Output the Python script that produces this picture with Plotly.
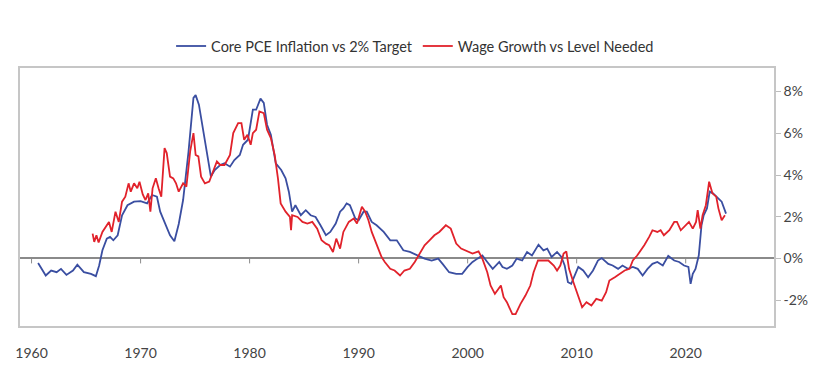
import plotly.graph_objects as go

# Core PCE inflation minus 2% target (percentage points)
pce_years = [1960.6, 1960.9, 1961.3, 1961.8, 1962.3, 1962.7, 1963.2, 1963.8, 1964.2, 1964.8,
             1965.45, 1965.9, 1966.2, 1966.5, 1966.9, 1967.2, 1967.5, 1967.9, 1968.3, 1968.8,
             1969.4, 1970.0, 1970.6, 1971.05, 1971.5, 1971.8, 1972.3, 1972.7, 1973.1, 1973.5,
             1973.9, 1974.4, 1974.85, 1975.05, 1975.35, 1975.7, 1976.05, 1976.45, 1976.8, 1977.3,
             1977.7, 1978.2, 1978.6, 1979.1, 1979.4, 1979.85, 1980.3, 1980.6, 1981.0, 1981.3,
             1981.6, 1981.95, 1982.4, 1982.9, 1983.3, 1983.6, 1983.9, 1984.2, 1984.7, 1985.15,
             1985.6, 1986.05, 1986.5, 1987.0, 1987.4, 1987.9, 1988.3, 1988.6, 1988.9, 1989.2,
             1989.7, 1990.0, 1990.45, 1990.75, 1991.2, 1991.65, 1992.3, 1992.9, 1993.5, 1994.1,
             1994.7, 1995.45, 1996.05, 1996.7, 1997.3, 1997.7, 1998.3, 1998.95, 1999.5, 2000.0,
             2000.45, 2000.9, 2001.35, 2001.8, 2002.3, 2002.9, 2003.2, 2003.6, 2004.1, 2004.5,
             2005.0, 2005.45, 2005.9, 2006.5, 2006.95, 2007.3, 2007.7, 2008.2, 2008.6, 2008.9,
             2009.2, 2009.5, 2009.85, 2010.15, 2010.6, 2011.05, 2011.5, 2011.95, 2012.3, 2012.9,
             2013.3, 2013.8, 2014.2, 2014.7, 2015.15, 2015.6, 2016.05, 2016.5, 2016.95, 2017.4,
             2017.9, 2018.4, 2018.95, 2019.4, 2019.85, 2020.25, 2020.45, 2020.65, 2020.9, 2021.2,
             2021.45, 2021.65, 2021.95, 2022.2, 2022.5, 2022.8, 2023.1, 2023.3, 2023.7]
pce_vals = [-0.22, -0.5, -0.82, -0.58, -0.66, -0.5, -0.79, -0.58, -0.3, -0.66,
            -0.74, -0.85, -0.34, 0.39, 0.95, 1.03, 0.87, 1.11, 2.07, 2.55,
            2.72, 2.75, 2.64, 3.04, 2.96, 2.24, 1.59, 1.11, 0.82, 1.65,
            2.8, 5.13, 7.7, 7.83, 7.37, 6.25, 5.13, 3.92, 4.24, 4.48,
            4.56, 4.4, 4.72, 4.96, 5.45, 5.69, 7.13, 7.13, 7.66, 7.46,
            6.41, 5.93, 4.56, 4.24, 3.84, 3.2, 2.24, 2.55, 2.07, 2.31,
            2.07, 1.99, 1.59, 1.11, 1.27, 1.67, 2.24, 2.4, 2.64, 2.55,
            1.91, 1.83, 2.24, 2.24, 1.75, 1.59, 1.27, 0.87, 0.87, 0.39,
            0.31, 0.14, -0.01, -0.1, -0.01, -0.26, -0.66, -0.74, -0.74, -0.41,
            -0.17, -0.01, 0.14, -0.17, -0.5, -0.17, -0.41, -0.5, -0.34, -0.01,
            -0.1, 0.31, 0.14, 0.66, 0.39, 0.47, 0.07, 0.31, 0.07, -0.34,
            -1.14, -1.22, -0.82, -0.41, -0.58, -0.9, -0.58, -0.1, 0.02, -0.26,
            -0.34, -0.5, -0.34, -0.5, -0.41, -0.5, -0.82, -0.5, -0.26, -0.17,
            -0.34, 0.12, -0.1, -0.17, -0.34, -0.41, -1.22, -0.74, -0.5, 0.14,
            1.59, 2.07, 2.4, 3.2, 3.12, 2.96, 2.8, 2.72, 2.15]

# Wage growth minus level needed (percentage points)
wage_years = [1965.6, 1965.75, 1965.95, 1966.15, 1966.5, 1966.9, 1967.1, 1967.35, 1967.7, 1968.0,
              1968.3, 1968.6, 1968.9, 1969.1, 1969.4, 1969.7, 1969.9, 1970.2, 1970.45, 1970.7,
              1970.9, 1971.1, 1971.4, 1971.65, 1971.9, 1972.2, 1972.4, 1972.7, 1973.0, 1973.25,
              1973.5, 1973.9, 1974.2, 1974.55, 1974.85, 1975.05, 1975.3, 1975.55, 1975.9, 1976.3,
              1976.65, 1977.0, 1977.3, 1977.7, 1978.2, 1978.5, 1978.95, 1979.25, 1979.5, 1979.8,
              1980.1, 1980.3, 1980.6, 1980.9, 1981.3, 1981.6, 1981.95, 1982.3, 1982.6, 1982.85,
              1983.3, 1983.7, 1983.8, 1983.9, 1984.4, 1984.85, 1985.3, 1985.75, 1986.2, 1986.6,
              1987.0, 1987.3, 1987.65, 1987.95, 1988.3, 1988.6, 1989.1, 1989.55, 1989.85, 1990.3,
              1990.6, 1990.9, 1991.2, 1991.65, 1992.1, 1992.4, 1992.9, 1993.3, 1993.8, 1994.2,
              1994.7, 1995.15, 1995.6, 1996.05, 1996.5, 1996.95, 1997.4, 1998.0, 1998.45, 1998.95,
              1999.4, 2000.0, 2000.45, 2001.0, 2001.35, 2001.8, 2002.1, 2002.5, 2002.9, 2003.05,
              2003.3, 2003.6, 2004.1, 2004.4, 2004.85, 2005.3, 2005.75, 2006.05, 2006.45, 2006.8,
              2007.4, 2007.9, 2008.2, 2008.5, 2008.8, 2009.05, 2009.3, 2009.7, 2010.1, 2010.5,
              2010.9, 2011.35, 2011.8, 2012.3, 2012.7, 2013.0, 2013.5, 2013.95, 2014.4, 2014.85,
              2015.15, 2015.55, 2015.9, 2016.2, 2016.65, 2016.95, 2017.4, 2017.7, 2018.0, 2018.5,
              2018.95, 2019.2, 2019.55, 2020.0, 2020.3, 2020.65, 2020.95, 2021.1, 2021.35, 2021.55,
              2021.85, 2022.15, 2022.45, 2022.8, 2023.0, 2023.3, 2023.6]
wage_vals = [1.19, 0.79, 1.11, 0.76, 1.27, 1.59, 1.75, 1.27, 2.24, 1.75,
             2.72, 2.96, 3.6, 3.2, 3.6, 3.36, 3.68, 3.07, 2.8, 3.12,
             2.24, 3.36, 3.84, 3.36, 2.96, 5.29, 5.05, 3.92, 3.84, 3.6,
             3.2, 3.6, 3.44, 5.13, 6.01, 4.96, 4.89, 3.92, 3.6, 3.68,
             4.16, 4.65, 4.48, 4.48, 4.96, 6.01, 6.49, 6.49, 5.69, 5.93,
             5.45, 6.01, 6.17, 7.05, 6.97, 6.17, 5.77, 4.96, 3.84, 2.64,
             2.24, 1.99, 1.35, 2.07, 1.99, 1.75, 1.67, 1.75, 1.43, 0.87,
             0.71, 0.63, 0.31, 0.95, 0.47, 1.27, 1.75, 1.91, 1.67, 2.48,
             2.24, 1.83, 1.27, 0.63, 0.07, -0.17, -0.5, -0.58, -0.82, -0.58,
             -0.5, -0.17, 0.23, 0.63, 0.87, 1.11, 1.27, 1.59, 1.43, 0.71,
             0.47, 0.34, 0.23, 0.34, -0.01, -0.66, -1.3, -1.7, -1.38, -1.3,
             -1.86, -2.1, -2.67, -2.67, -2.18, -1.78, -1.3, -0.66, -0.1, -0.1,
             -0.1, -0.34, -0.58, -0.34, 0.23, 0.34, -0.5, -1.14, -1.78, -2.34,
             -2.1, -2.26, -1.94, -2.02, -1.62, -1.06, -0.9, -0.74, -0.58, -0.5,
             -0.1, 0.14, 0.39, 0.63, 1.03, 1.35, 1.27, 1.35, 1.11, 1.35,
             1.75, 1.75, 1.35, 1.59, 1.75, 1.43, 1.75, 2.31, 1.43, 2.07,
             2.55, 3.68, 3.12, 2.96, 2.4, 1.83, 2.07]

x_ticks = [1960, 1970, 1980, 1990, 2000, 2010, 2020]
y_ticks = [-2, 0, 2, 4, 6, 8]

BLUE = "#3a4ea1"
RED = "#e1222b"

fig = go.Figure()
fig.add_trace(go.Scatter(x=pce_years, y=pce_vals, mode="lines",
                         name="Core PCE Inflation vs 2% Target",
                         line=dict(color=BLUE, width=1.8)))
fig.add_trace(go.Scatter(x=wage_years, y=wage_vals, mode="lines",
                         name="Wage Growth vs Level Needed",
                         line=dict(color=RED, width=1.8)))

# small tick marks on the zero line
for yr in x_ticks:
    fig.add_shape(type="line", xref="x", yref="y", x0=yr, x1=yr, y0=0, y1=-5,
                  ysizemode="pixel", yanchor=0,
                  line=dict(color="#8c8c8c", width=1), layer="below")

fig.update_layout(
    width=807, height=370,
    margin=dict(l=7, r=39, t=60, b=52),
    paper_bgcolor="white", plot_bgcolor="white",
    font=dict(family="Lato, 'Open Sans', sans-serif", size=14, color="#444"),
    showlegend=True,
    legend=dict(orientation="h", x=0.524, xanchor="center", y=1.085, yanchor="middle",
                font=dict(size=14.5, color="#333"), itemwidth=30,
                bgcolor="rgba(0,0,0,0)"),
)
fig.update_xaxes(range=[1958.94, 2028.1], tickvals=x_ticks, ticktext=[str(v) for v in x_ticks],
                 showgrid=False, zeroline=False,
                 showline=True, linecolor="#c6c6c6", linewidth=1.5, mirror=True,
                 ticks="outside", ticklen=13, tickcolor="rgba(0,0,0,0)",
                 tickfont=dict(size=14, color="#444"))
fig.update_yaxes(range=[-3.24, 9.13], tickvals=y_ticks, ticktext=[f"{v}%" for v in y_ticks],
                 side="right", showgrid=False,
                 zeroline=True, zerolinecolor="#8a8a8a", zerolinewidth=2,
                 showline=True, linecolor="#c6c6c6", linewidth=1.5, mirror=True,
                 ticks="outside", ticklen=5, tickcolor="#bdbdbd",
                 tickfont=dict(size=14, color="#444"))

fig.write_html("out.html")
